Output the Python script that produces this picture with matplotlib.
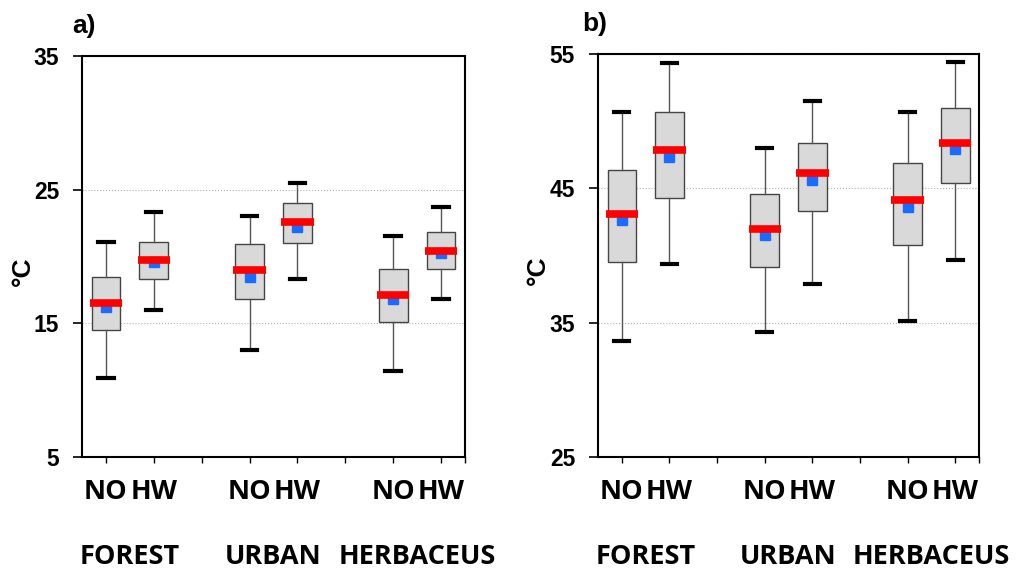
"""Box plots of air temperature by land cover, normal days (NO) vs heat wave days (HW).

a) minimum-ish temperatures, b) maximum-ish temperatures. Stats read off the figure.
"""
import matplotlib
matplotlib.use("Agg")
import matplotlib.pyplot as plt

covers = ["FOREST", "URBAN", "HERBACEUS"]
conds = ["NO", "HW"]

# panel a) order: FOREST NO, FOREST HW, URBAN NO, URBAN HW, HERBACEUS NO, HERBACEUS HW
a_whislo = [10.9, 16.0, 13.0, 18.3, 11.4, 16.8]
a_q1 = [14.5, 18.3, 16.8, 21.0, 15.1, 19.1]
a_med = [16.5, 19.75, 19.0, 22.6, 17.1, 20.45]
a_mean = [16.2, 19.6, 18.5, 22.2, 16.8, 20.3]
a_q3 = [18.5, 21.1, 20.9, 24.0, 19.1, 21.8]
a_whishi = [21.1, 23.3, 23.0, 25.5, 21.5, 23.7]

# panel b)
b_whislo = [33.65, 39.4, 34.3, 37.85, 35.15, 39.7]
b_q1 = [39.55, 44.25, 39.15, 43.3, 40.75, 45.4]
b_med = [43.1, 47.85, 42.0, 46.15, 44.1, 48.4]
b_mean = [42.65, 47.3, 41.55, 45.6, 43.6, 47.9]
b_q3 = [46.35, 50.7, 44.55, 48.4, 46.9, 51.0]
b_whishi = [50.7, 54.35, 48.0, 51.5, 50.7, 54.4]

BOX_POS = [1, 2, 4, 5, 7, 8]
NUM_FONT = "Liberation Sans"
CAT_FONT = "Open Sans"


def draw_panel(ax, whislo, q1, med, mean, q3, whishi, ylim, yticks, tag, tag_x, ylab_x):
    stats = [
        {"whislo": lo, "q1": a, "med": m, "q3": b, "whishi": hi, "fliers": []}
        for lo, a, m, b, hi in zip(whislo, q1, med, q3, whishi)
    ]
    ax.bxp(
        stats, positions=BOX_POS, widths=0.6, capwidths=0.32,
        patch_artist=True, showfliers=False, showmeans=False,
        boxprops=dict(facecolor="#d9d9d9", edgecolor="#454545", linewidth=1.0),
        whiskerprops=dict(color="#555555", linewidth=1.0),
        capprops=dict(color="black", linewidth=3.0),
        medianprops=dict(linewidth=0),
    )
    # mean squares sit under the thick red median bars
    ax.plot(BOX_POS, mean, linestyle="none", marker="s", markersize=6.5,
            color="#1a6bff", zorder=4)
    ax.hlines(med, [p - 0.34 for p in BOX_POS], [p + 0.34 for p in BOX_POS],
              color="#ff0000", linewidth=5.5, zorder=5)

    ax.set_xlim(0.5, 8.5)
    ax.set_ylim(*ylim)
    ax.set_yticks(yticks)
    ax.set_yticklabels([str(t) for t in yticks], fontfamily=NUM_FONT,
                       fontweight="bold", fontsize=16.5)
    ax.set_xticks(range(1, 9))
    ax.set_xticklabels(["NO", "HW", "", "NO", "HW", "", "NO", "HW"],
                       fontfamily=CAT_FONT, fontweight="bold", fontsize=19.5)
    ax.set_xticks([8.5], minor=True)
    ax.tick_params(axis="y", direction="out", length=6.5, width=1.2, pad=10)
    ax.tick_params(axis="x", which="both", direction="out", length=4, width=1.0, pad=11.5)
    ax.grid(axis="y", color="#b0b0b0", linestyle=":", linewidth=0.8)
    ax.set_axisbelow(True)
    for sp in ax.spines.values():
        sp.set_linewidth(1.5)
        sp.set_color("black")

    tr = ax.get_xaxis_transform()
    for i, name in enumerate(covers):
        x = (BOX_POS[2 * i] + BOX_POS[2 * i + 1]) / 2
        ax.text(x, -0.249, name, transform=tr, ha="center", va="center",
                fontfamily=CAT_FONT, fontweight="bold", fontsize=19.5)

    ax.text(ylab_x, 0.464, "°C", transform=ax.transAxes, rotation=90,
            ha="center", va="center", fontfamily=NUM_FONT, fontweight="bold",
            fontsize=19)
    ax.text(tag_x, 1.074, tag, transform=ax.transAxes, ha="left", va="center",
            fontfamily=NUM_FONT, fontweight="bold", fontsize=19)


fig = plt.figure(figsize=(10.21, 5.70), dpi=100)
ax_a = fig.add_axes([0.0803, 0.1982, 0.3751, 0.7035])
ax_b = fig.add_axes([0.5857, 0.1982, 0.3732, 0.7070])

draw_panel(ax_a, a_whislo, a_q1, a_med, a_mean, a_q3, a_whishi,
           (5, 35), [5, 15, 25, 35], "a)", -0.026, -0.154)
draw_panel(ax_b, b_whislo, b_q1, b_med, b_mean, b_q3, b_whishi,
           (25, 55), [25, 35, 45, 55], "b)", -0.042, -0.157)

fig.savefig("out.png", dpi=100)
